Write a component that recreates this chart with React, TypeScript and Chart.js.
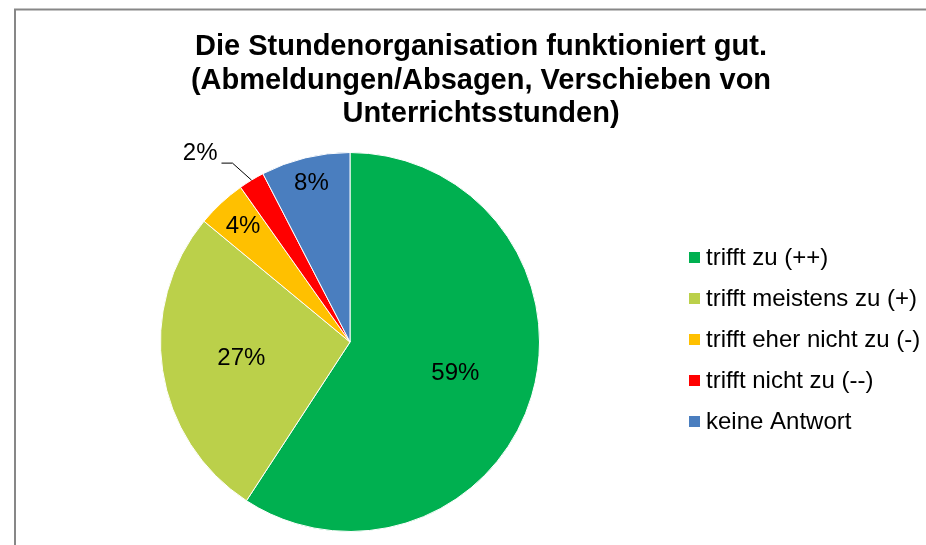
import React, { useEffect, useRef } from "react";
import { Chart, registerables } from "chart.js";

Chart.register(...registerables);

const titleLines = [
  "Die Stundenorganisation funktioniert gut.",
  "(Abmeldungen/Absagen, Verschieben von",
  "Unterrichtsstunden)",
];
const categories = [
  "trifft zu (++)",
  "trifft meistens zu (+)",
  "trifft eher nicht zu (-)",
  "trifft nicht zu (--)",
  "keine Antwort",
];
const values = [59.2, 26.8, 4.2, 2.2, 7.6];
const colors = ["#00B050", "#BBD04A", "#FFC000", "#FF0000", "#4A7EBF"];

// label placement style (fraction of radius from centre; null => outside with leader)
const labelRadiusFrac = [0.58, 0.58, 0.83, null, 0.86];

const FONT = '"Liberation Sans", Arial, sans-serif';

const decorPlugin = {
  id: "decor",
  beforeDraw(chart: any) {
    const ctx = chart.ctx;
    ctx.save();
    ctx.fillStyle = "#ffffff";
    ctx.fillRect(0, 0, chart.width, chart.height);
    ctx.strokeStyle = "#878787";
    ctx.lineWidth = 2;
    ctx.beginPath();
    ctx.moveTo(15, chart.height);
    ctx.lineTo(15, 9.5);
    ctx.lineTo(chart.width, 9.5);
    ctx.stroke();
    ctx.restore();
  },
  afterDraw(chart: any) {
    const ctx = chart.ctx;
    ctx.save();
    // title
    ctx.fillStyle = "#000";
    ctx.font = `bold 29px ${FONT}`;
    ctx.textAlign = "center";
    ctx.textBaseline = "middle";
    titleLines.forEach((t, i) => ctx.fillText(t, 481, 47 + i * 33.5));

    // data labels
    const meta = chart.getDatasetMeta(0);
    const data = chart.data.datasets[0].data as number[];
    ctx.font = `24px ${FONT}`;
    meta.data.forEach((arc: any, i: number) => {
      const { x, y, startAngle, endAngle, outerRadius } = arc.getProps(
        ["x", "y", "startAngle", "endAngle", "outerRadius"],
        true
      );
      const mid = (startAngle + endAngle) / 2;
      const text = Math.round(data[i]) + "%";
      const frac = labelRadiusFrac[i];
      if (frac != null) {
        ctx.textAlign = "center";
        ctx.textBaseline = "middle";
        ctx.fillText(text, x + Math.cos(mid) * outerRadius * frac, y + Math.sin(mid) * outerRadius * frac);
      } else {
        const px = x + Math.cos(mid) * outerRadius;
        const py = y + Math.sin(mid) * outerRadius;
        const ex = px - 19;
        const ey = py - 17;
        ctx.strokeStyle = "#000";
        ctx.lineWidth = 1;
        ctx.beginPath();
        ctx.moveTo(px, py);
        ctx.lineTo(ex, ey);
        ctx.lineTo(ex - 11, ey);
        ctx.stroke();
        ctx.textAlign = "right";
        ctx.textBaseline = "middle";
        ctx.fillText(text, ex - 15, ey - 10);
      }
    });

    // legend
    ctx.font = `24px ${FONT}`;
    ctx.textAlign = "left";
    ctx.textBaseline = "middle";
    (chart.data.labels as string[]).forEach((lab, i) => {
      const cy = 258 + i * 41;
      ctx.fillStyle = colors[i];
      ctx.fillRect(689, cy - 6, 11, 11);
      ctx.fillStyle = "#000";
      ctx.fillText(lab, 706, cy);
    });
    ctx.restore();
  },
};

export default function App() {
  const ref = useRef<HTMLCanvasElement>(null);
  useEffect(() => {
    if (!ref.current) return;
    const chart = new Chart(ref.current, {
      type: "pie",
      data: {
        labels: categories,
        datasets: [
          {
            data: values,
            backgroundColor: colors,
            borderColor: "#ffffff",
            borderWidth: 1,
          },
        ],
      },
      options: {
        animation: false,
        responsive: false,
        events: [],
        layout: { padding: { left: 160, right: 386, top: 152, bottom: 13 } },
        plugins: {
          legend: { display: false },
          title: { display: false },
          tooltip: { enabled: false },
        },
      },
      plugins: [decorPlugin],
    });
    return () => chart.destroy();
  }, []);
  return (
    <div style={{ position: "absolute", left: 0, top: 0, width: 926, height: 545 }}>
      <canvas ref={ref} width={926} height={545} style={{ width: 926, height: 545 }} />
    </div>
  );
}
